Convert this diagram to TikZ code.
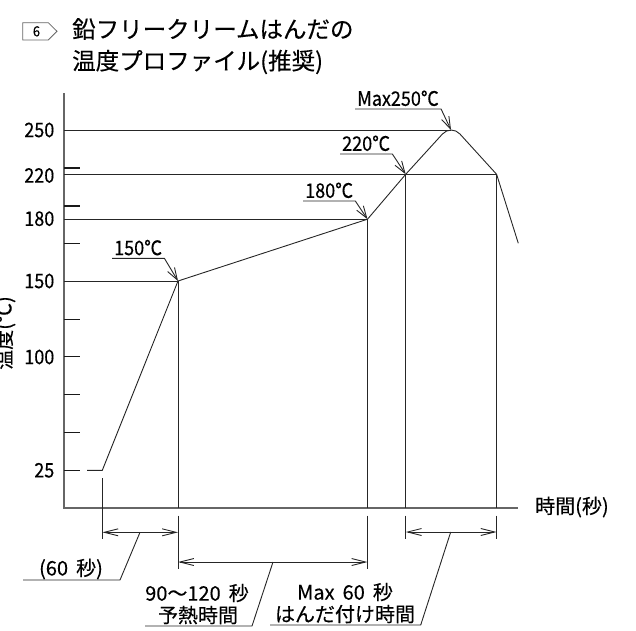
\documentclass[tikz,border=0pt]{standalone}
\usepackage{fontspec}
\setmainfont{Noto Sans CJK JP}[WordSpace=1.8,FakeBold=0.3]
\newfontfamily\numfont{Noto Sans CJK JP}[FakeStretch=0.9,FakeBold=0.3]
\usetikzlibrary{arrows.meta}

\begin{document}
\begin{tikzpicture}[x=1pt,y=-1pt,
    plainline/.style={line width=0.9pt,black!85},
    axisline/.style={line width=1.1pt,black!60},
    tickmark/.style={line width=1pt,black!90},
    badgeline/.style={line width=0.8pt,black!60},
    dimline/.style={plainline,{Straight Barb[length=14pt,width=7pt]}-{Straight Barb[length=14pt,width=7pt]}},
    leadline/.style={plainline,-{Straight Barb[length=12pt,width=8pt]}},
    numlabel/.style={font=\numfont\fontsize{20}{24}\selectfont,inner sep=0pt,anchor=east},
    templabel/.style={font=\numfont\fontsize{20}{24}\selectfont,inner xsep=2pt,inner ysep=3pt,text depth=0pt,anchor=south west},
    jplabel/.style={font=\fontsize{20}{24}\selectfont,inner sep=0pt},
    titlelabel/.style={font=\fontsize{23.5}{28}\selectfont,inner sep=0pt,anchor=west}]
    \useasboundingbox (0,0) rectangle (636,630);
    %标题
    \draw[badgeline] (22.7,22.7) -- (48.3,22.7) -- (57,31.3) -- (48.3,40) -- (22.7,40) -- cycle;
    \node[font=\numfont\fontsize{14}{16}\selectfont,inner sep=0pt] (no6) at (36.5,31.3) {6};
    \node[titlelabel] (title1) at (72,29) {鉛フリークリームはんだの};
    \node[titlelabel] (title2) at (72,62) {温度プロファイル(推奨)};

    %坐标轴
    \coordinate (o) at (64,508);
    \draw[axisline] (64,93) -- (o) -- (518,508);
    \node[jplabel,anchor=west] (xlab) at (535,507) {時間(秒)};
    \node[jplabel,rotate=90] (ylab) at (5,333) {温度(℃)};

    %刻度
    \foreach \k in {0,...,9}
        \draw[tickmark] (64,470.3-37.8*\k) -- ++(16,0);
    \draw[tickmark,line width=1.8pt] (64,205.7) -- ++(16,0) (64,167.9) -- ++(16,0);
    \node[numlabel] (y250) at (54.5,130) {250};
    \node[numlabel] (y220) at (54.5,175.5) {220};
    \node[numlabel] (y180) at (54.5,218.7) {180};
    \node[numlabel] (y150) at (54.5,281) {150};
    \node[numlabel] (y100) at (54.5,357) {100};
    \node[numlabel] (y25) at (54.5,470.3) {25};

    %温度曲线
    \coordinate (p25a) at (87,470.3);
    \coordinate (p25) at (102.3,470.3);
    \coordinate (p150) at (178,281);
    \coordinate (p180) at (367.5,219.2);
    \coordinate (p220) at (405.7,174.3);
    \coordinate (ptop) at (451.2,124.4);
    \coordinate (pmax) at (451,130);
    \coordinate (p220b) at (496.6,174.3);
    \coordinate (pend) at (518.3,243.3);
    \draw[plainline] (p25a) -- (p25) -- (p150) -- (p180) -- (p220);
    \draw[plainline,rounded corners=13pt] (p220) -- (ptop) -- (p220b);
    \draw[plainline] (p220b) -- (pend);

    %水平线与竖线
    \draw[plainline] (o |- pmax) -- (pmax);
    \draw[plainline] (o |- p220b) -- (p220b);
    \draw[plainline] (o |- p180) -- (p180);
    \draw[plainline] (o |- p150) -- (p150);
    \foreach \p in {p150,p180,p220,p220b}
        \draw[plainline] (\p) -- (\p |- o);

    %温度标注
    \node[templabel] (t150) at (112,258.3) {150℃};
    \draw[leadline] (t150.south west) -- (t150.south east) -- (p150);
    \node[templabel] (t180) at (303,201) {180℃};
    \draw[leadline] (t180.south west) -- (t180.south east) -- (p180);
    \node[templabel] (t220) at (340,154) {220℃};
    \draw[leadline] (t220.south west) -- (t220.south east) -- (p220);
    \node[templabel] (tmax) at (355,109) {Max250℃};
    \draw[leadline] (tmax.south west) -- (tmax.south east) -- (pmax);

    %尺寸线
    \draw[plainline] (102.3,478) -- (102.3,539);
    \draw[plainline] (178,515.5) -- (178,569) (367.5,515.5) -- (367.5,569);
    \draw[plainline] (405.7,515.5) -- (405.7,539) (496.6,515.5) -- (496.6,539);
    \draw[dimline] (102.3,532.3) -- (178,532.3);
    \draw[dimline] (178,562) -- (367.5,562);
    \draw[dimline] (405.7,532) -- (496.6,532);

    %时间标注
    \coordinate (d1m) at (140,532.3);
    \coordinate (u1) at (120,580);
    \coordinate (u1e) at (23,580);
    \draw[plainline] (d1m) -- (u1) -- (u1e);
    \node[jplabel] (t60) at (71,569) {(60 秒)};

    \coordinate (d2m) at (273,562);
    \coordinate (u2) at (252,626);
    \coordinate (u2e) at (145,626);
    \draw[plainline] (d2m) -- (u2) -- (u2e);
    \node[jplabel] (t90) at (197,593) {90～120 秒};
    \node[jplabel] (tpre) at (198,615) {予熱時間};

    \coordinate (d3m) at (450.7,532);
    \coordinate (u3) at (420.7,625);
    \coordinate (u3e) at (270,625);
    \draw[plainline] (d3m) -- (u3) -- (u3e);
    \node[jplabel] (tmx60) at (345,592) {Max 60 秒};
    \node[jplabel] (tsol) at (345,614) {はんだ付け時間};
\end{tikzpicture}
\end{document}
